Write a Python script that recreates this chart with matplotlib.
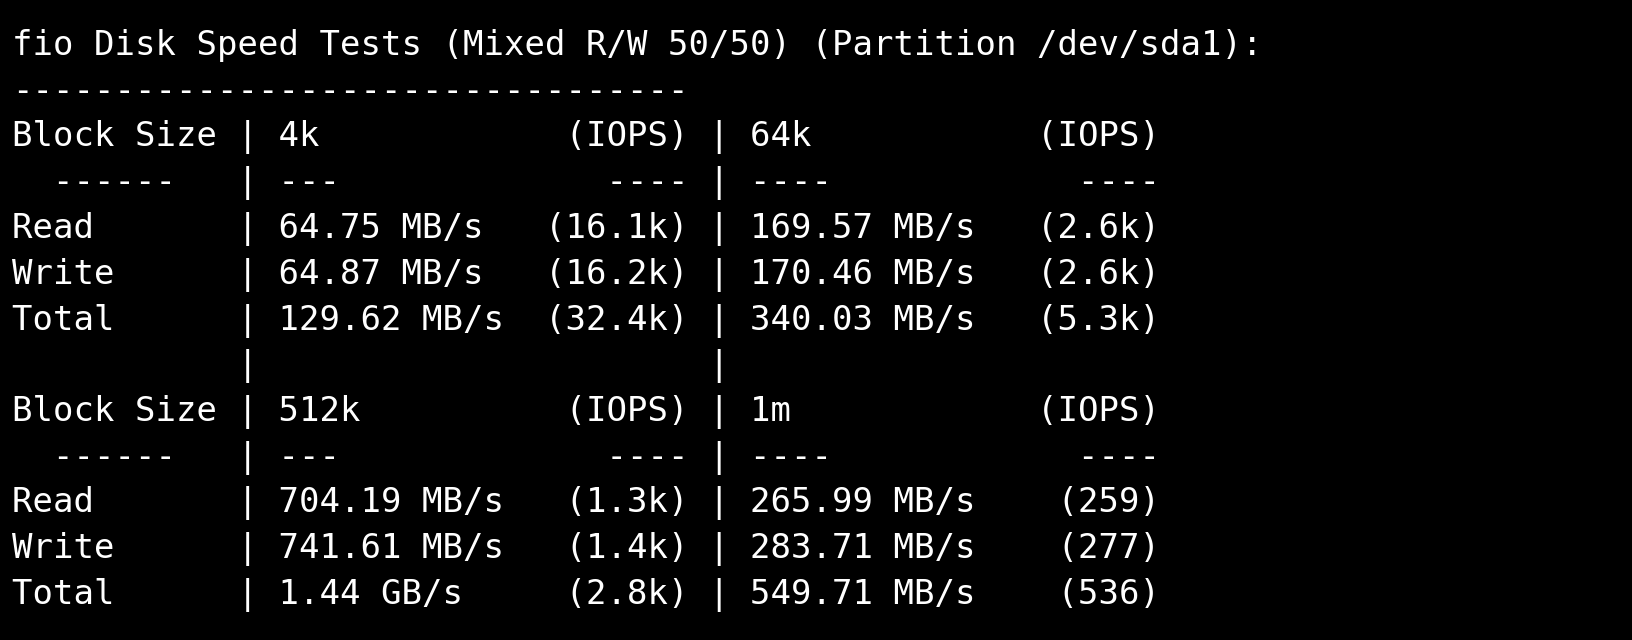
import matplotlib
matplotlib.use("Agg")
import matplotlib.pyplot as plt

title = "fio Disk Speed Tests (Mixed R/W 50/50) (Partition /dev/sda1):"
block_sizes = [("4k", "64k"), ("512k", "1m")]
row_labels = ["Read", "Write", "Total"]
speeds = [
    [("64.75 MB/s", "169.57 MB/s"), ("64.87 MB/s", "170.46 MB/s"), ("129.62 MB/s", "340.03 MB/s")],
    [("704.19 MB/s", "265.99 MB/s"), ("741.61 MB/s", "283.71 MB/s"), ("1.44 GB/s", "549.71 MB/s")],
]
iops = [
    [("16.1k", "2.6k"), ("16.2k", "2.6k"), ("32.4k", "5.3k")],
    [("1.3k", "259"), ("1.4k", "277"), ("2.8k", "536")],
]

def row(a, b, c, d, e):
    return "%-10s | %-11s %8s | %-11s %8s" % (a, b, c, d, e)

lines = [title, "-" * 33]
for g, (b1, b2) in enumerate(block_sizes):
    lines.append(row("Block Size", b1, "(IOPS)", b2, "(IOPS)"))
    lines.append(row("  ------", "---", "----", "----", "----"))
    for r, lab in enumerate(row_labels):
        s1, s2 = speeds[g][r]
        i1, i2 = iops[g][r]
        lines.append(row(lab, s1, "(%s)" % i1, s2, "(%s)" % i2))
    if g == 0:
        lines.append(row("", "", "", "", "").rstrip())

fig = plt.figure(figsize=(16.32, 6.4), dpi=100, facecolor="black")
ax = fig.add_axes([0, 0, 1, 1])
ax.set_facecolor("black")
ax.set_xlim(0, 1632)
ax.set_ylim(640, 0)
ax.axis("off")
for i, ln in enumerate(lines):
    ax.text(12, 46 + 45.75 * i, ln, color="white", family="DejaVu Sans Mono",
            fontsize=24.5, va="center", ha="left")
fig.savefig("out.png", dpi=100, facecolor="black")
